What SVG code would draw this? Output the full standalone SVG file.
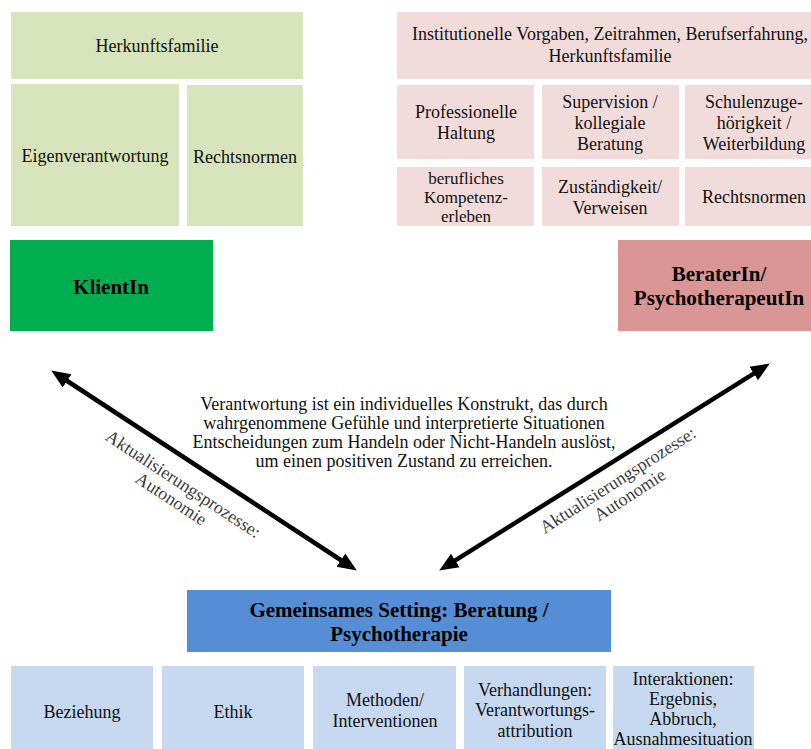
<svg xmlns="http://www.w3.org/2000/svg" width="811" height="749" viewBox="0 0 811 749">
<defs>
<style>
text{font-family:"Liberation Serif","Times New Roman",serif;font-size:18px;fill:#111;text-anchor:middle}
.b{font-weight:bold;font-size:21px;fill:#000}
.s{font-size:17px}
.g{fill:#d8e4bc}
.p{fill:#f2dcdb}
.lb{fill:#c6d9f1}
.rot{fill:#3c3c3c}
.arr{stroke:#000;stroke-width:4.5;fill:none;marker-start:url(#ah);marker-end:url(#ah)}
</style>
<marker id="ah" markerUnits="userSpaceOnUse" markerWidth="20" markerHeight="18" refX="8" refY="8" orient="auto-start-reverse" viewBox="0 0 20 16">
<path d="M0,0 L19,8 L0,16 z" fill="#000"/>
</marker>
</defs>
<rect width="811" height="749" fill="#fff"/>

<g id="klient-herkunft"><rect class="g" x="11" y="12" width="292" height="67"/><text x="157" y="52">Herkunftsfamilie</text></g>
<g id="klient-eigen"><rect class="g" x="11" y="84" width="168" height="142"/><text x="95" y="162">Eigenverantwortung</text></g>
<g id="klient-recht"><rect class="g" x="187" y="85" width="116" height="141"/><text x="245" y="163">Rechtsnormen</text></g>
<g id="klient"><rect x="10" y="240" width="203" height="91" fill="#00ae50"/><text class="b" x="111" y="294">KlientIn</text></g>

<g id="berater-inst"><rect class="p" x="397" y="12" width="414" height="67"/><text x="610" y="40">Institutionelle Vorgaben, Zeitrahmen, Berufserfahrung,</text><text x="610" y="62">Herkunftsfamilie</text></g>
<g id="berater-haltung"><rect class="p" x="397" y="85" width="137" height="74"/><text x="466" y="118">Professionelle</text><text x="466" y="139">Haltung</text></g>
<g id="berater-supervision"><rect class="p" x="542" y="85" width="137" height="74"/><text x="610" y="108">Supervision /</text><text x="610" y="129">kollegiale</text><text x="610" y="150">Beratung</text></g>
<g id="berater-schule"><rect class="p" x="685" y="85" width="126" height="74"/><text x="754" y="108">Schulenzuge-</text><text x="754" y="129">hörigkeit /</text><text x="754" y="150">Weiterbildung</text></g>
<g id="berater-kompetenz"><rect class="p" x="397" y="167" width="137" height="59"/><text class="s" x="466" y="184">berufliches</text><text class="s" x="466" y="203">Kompetenz-</text><text class="s" x="466" y="222">erleben</text></g>
<g id="berater-zustaendig"><rect class="p" x="542" y="167" width="137" height="59"/><text x="610" y="193">Zuständigkeit/</text><text x="610" y="214">Verweisen</text></g>
<g id="berater-recht"><rect class="p" x="685" y="167" width="126" height="59"/><text x="754" y="203">Rechtsnormen</text></g>
<g id="berater"><rect x="618" y="240" width="193" height="91" fill="#d99694"/><text class="b" x="719" y="281">BeraterIn/</text><text class="b" x="719" y="305">PsychotherapeutIn</text></g>

<g id="definition"><text x="404" y="410">Verantwortung ist ein individuelles Konstrukt, das durch</text><text x="404" y="429">wahrgenommene Gefühle und interpretierte Situationen</text><text x="404" y="448">Entscheidungen zum Handeln oder Nicht-Handeln auslöst,</text><text x="404" y="467">um einen positiven Zustand zu erreichen.</text></g>

<g id="connectors">
<path class="arr" d="M60.4,376.5 L347.6,564.5"/>
<path class="arr" d="M448.5,564.7 L760.5,369.3"/>
<text class="rot" transform="translate(180,489) rotate(33.3)"><tspan x="0" y="0">Aktualisierungsprozesse:</tspan><tspan x="-2" y="19">Autonomie</tspan></text>
<text class="rot" transform="translate(621,485) rotate(-32.7)"><tspan x="0" y="0">Aktualisierungsprozesse:</tspan><tspan x="2" y="19">Autonomie</tspan></text>
</g>

<g id="setting"><rect x="187" y="590" width="424" height="62" fill="#558ed5"/><text class="b" x="399" y="617">Gemeinsames Setting: Beratung /</text><text class="b" x="399" y="641">Psychotherapie</text></g>
<g id="s-beziehung"><rect class="lb" x="11" y="666" width="142" height="83"/><text x="82" y="718">Beziehung</text></g>
<g id="s-ethik"><rect class="lb" x="162" y="666" width="142" height="83"/><text x="233" y="718">Ethik</text></g>
<g id="s-methoden"><rect class="lb" x="313" y="666" width="143" height="83"/><text x="385" y="706">Methoden/</text><text x="385" y="727">Interventionen</text></g>
<g id="s-verhandlungen"><rect class="lb" x="464" y="666" width="142" height="83"/><text x="535" y="696">Verhandlungen:</text><text x="535" y="716">Verantwortungs-</text><text x="535" y="737">attribution</text></g>
<g id="s-interaktionen"><rect class="lb" x="613" y="666" width="141" height="83"/><text x="683" y="685">Interaktionen:</text><text x="683" y="705">Ergebnis,</text><text x="683" y="725">Abbruch,</text><text x="683" y="745">Ausnahmesituation</text></g>
</svg>
